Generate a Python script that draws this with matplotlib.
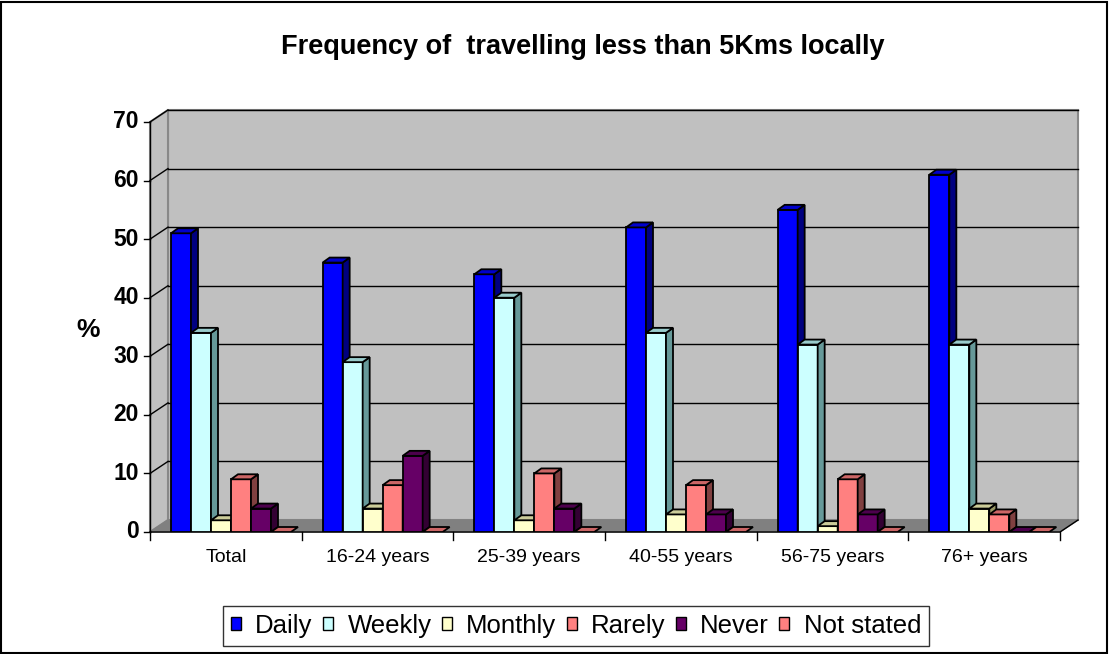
import matplotlib.pyplot as plt
import numpy as np
from matplotlib.patches import Polygon, Rectangle

categories = ['Total', '16-24 years', '25-39 years', '40-55 years', '56-75 years', '76+ years']
series = ['Daily', 'Weekly', 'Monthly', 'Rarely', 'Never', 'Not stated']
daily = [51, 46, 44, 52, 55, 61]
weekly = [34, 29, 40, 34, 32, 32]
monthly = [2, 4, 2, 3, 1, 4]
rarely = [9, 8, 10, 8, 9, 3]
never = [4, 13, 4, 3, 3, 0]
not_stated = [0, 0, 0, 0, 0, 0]
yticks = [0, 10, 20, 30, 40, 50, 60, 70]

colors = ['#0000FF', '#CCFFFF', '#FFFFCC', '#FF8080', '#660066', '#FF8080']
side_colors = ['#000080', '#669999', '#999966', '#804040', '#330033', '#804040']
top_colors = ['#0000CC', '#99CCCC', '#CCCC99', '#CC6666', '#4D004D', '#CC6666']

W, H = 1109, 654
fig = plt.figure(figsize=(W / 100, H / 100), dpi=100)
plt.rcParams['font.family'] = ['Liberation Sans', 'DejaVu Sans']

# front plane of the plot, in pixels
x0, x1 = 150, 1060
y0, y70 = 532, 122
ax = fig.add_axes([x0 / W, (H - y0) / H, (x1 - x0) / W, (y0 - y70) / H])
ax.set_xlim(0, len(categories))
ax.set_ylim(0, 70)
ax.axis('off')

px_x = len(categories) / (x1 - x0)
px_y = 70 / (y0 - y70)
wdx, wdy = 18 * px_x, 12 * px_y      # wall depth
bdx, bdy = 7 * px_x, 5 * px_y        # bar depth
bw = 20 * px_x
boff = 21 * px_x
n = len(categories)

# back wall and left wall
ax.add_patch(Polygon([(wdx, wdy), (n + wdx, wdy), (n + wdx, 70 + wdy), (wdx, 70 + wdy)],
                     closed=True, fc='#C0C0C0', ec='#888888', lw=1.5, clip_on=False, zorder=1))
ax.add_patch(Polygon([(0, 0), (wdx, wdy), (wdx, 70 + wdy), (0, 70)],
                     closed=True, fc='#C0C0C0', ec='#888888', lw=1.5, clip_on=False, zorder=1))
# floor
ax.add_patch(Polygon([(0, 0), (n, 0), (n + wdx, wdy), (wdx, wdy)],
                     closed=True, fc='#808080', ec='#808080', lw=1, clip_on=False, zorder=2))
for t in yticks[1:]:
    ax.plot([wdx, n + wdx], [t + wdy, t + wdy], color='black', lw=1, clip_on=False, zorder=2)
    ax.plot([0, wdx], [t, t + wdy], color='black', lw=1, clip_on=False, zorder=2)

# axis lines and ticks
ax.plot([0, 0], [0, 70], color='black', lw=1, clip_on=False, zorder=3)
ax.plot([0, n, n + wdx], [0, 0, wdy], color='black', lw=1, clip_on=False, zorder=3)
for t in yticks:
    ax.plot([-6 * px_x, 0], [t, t], color='black', lw=1, clip_on=False, zorder=3)
    ax.text(-11 * px_x, t, str(t), ha='right', va='center', fontsize=16.5,
            fontweight='bold')
for i in range(n + 1):
    ax.plot([i, i], [0, -8 * px_y], color='black', lw=1, clip_on=False, zorder=3)
for i, c in enumerate(categories):
    ax.text(i + 0.5, -26 * px_y, c, ha='center', va='center', fontsize=14)

data = [daily, weekly, monthly, rarely, never, not_stated]
z = 10
for i in range(n):
    for j, vals in enumerate(data):
        v = vals[i]
        x = i + boff + j * bw
        if v > 0:
            ax.bar(x, v, width=bw, align='edge', color=colors[j], edgecolor='black',
                   linewidth=1.3, zorder=z)
            ax.add_patch(Polygon([(x + bw, 0), (x + bw + bdx, bdy), (x + bw + bdx, v + bdy), (x + bw, v)],
                                 closed=True, fc=side_colors[j], ec='black', lw=1.3, zorder=z))
        ax.add_patch(Polygon([(x, v), (x + bw, v), (x + bw + bdx, v + bdy), (x + bdx, v + bdy)],
                             closed=True, fc=top_colors[j], ec='black', lw=1.3, zorder=z))
        z += 1

fig.text(583 / W, 1 - 47 / H, 'Frequency of  travelling less than 5Kms locally',
         ha='center', va='center', fontsize=19.5, fontweight='bold')
fig.text(88 / W, 1 - 330 / H, '%', ha='center', va='center', fontsize=19, fontweight='bold')

handles = [Rectangle((0, 0), 1, 1, fc=c, ec='black', lw=1) for c in colors]
leg = fig.legend(handles, series, loc='center', bbox_to_anchor=(576 / W, 1 - 626 / H),
                 ncol=6, fontsize=18.5, frameon=True, fancybox=False, edgecolor='black',
                 handlelength=0.4, handleheight=0.4, handletextpad=0.55, columnspacing=0.4,
                 borderpad=0.3, borderaxespad=0)
leg.get_frame().set_linewidth(1)

fig.add_artist(Rectangle((1 / W, 1 / H), (W - 3) / W, (H - 3) / H, transform=fig.transFigure,
                         fill=False, ec='black', lw=1.5))

fig.savefig('out.png', dpi=100)
